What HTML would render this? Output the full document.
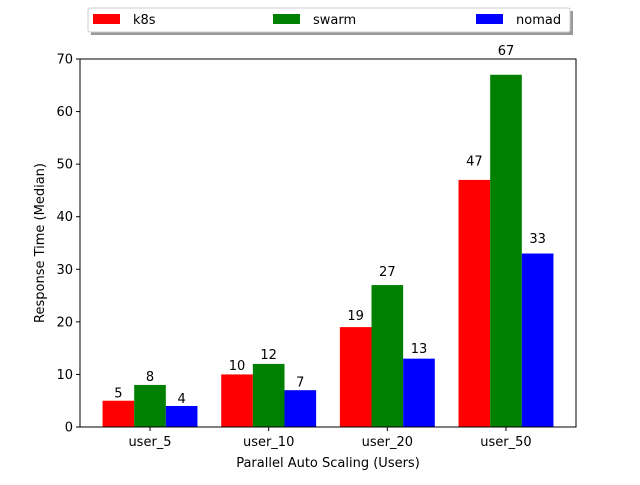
<!DOCTYPE html>
<html><head><meta charset="utf-8"><style>
body{margin:0;background:#fff;}
svg{font-family:"DejaVu Sans","Liberation Sans",sans-serif;}
</style></head><body>
<svg id="chart" width="640" height="480" viewBox="0 0 640 480" xmlns="http://www.w3.org/2000/svg">
<rect width="640" height="480" fill="#fff"/>
<g id="bars"></g>
<g id="labels"></g>
<rect x="80" y="59" width="496" height="368" fill="none" stroke="#000" stroke-width="1"/>
<g id="yticks"></g>
<g id="xticks"></g>
<text x="328" y="467" font-size="13" text-anchor="middle">Parallel Auto Scaling (Users)</text>
<text x="44" y="243" font-size="13" text-anchor="middle" transform="rotate(-90 44 243)">Response Time (Median)</text>
<g>
<rect x="91" y="11" width="482" height="24" fill="#555" opacity="0.6"/>
<rect x="88" y="8" width="482" height="24" fill="#fff" stroke="#ccc" rx="2"/>
<g id="legend-items"></g>
</g>
</svg>
<script>
const categories=["user_5","user_10","user_20","user_50"];
const seriesNames=["k8s","swarm","nomad"];
const colors=["#ff0000","#008000","#0000ff"];
const k8s=[5,10,19,47];
const swarm=[8,12,27,67];
const nomad=[4,7,13,33];
const yTicks=[0,10,20,30,40,50,60,70];
const series=[k8s,swarm,nomad];
const NS="http://www.w3.org/2000/svg";
const x0=80,x1=576,y0=427,y1=59;
const xmin=-0.59,xmax=3.59,ymin=0,ymax=70;
const xs=v=>x0+(v-xmin)/(xmax-xmin)*(x1-x0);
const ys=v=>y0-(v-ymin)/(ymax-ymin)*(y0-y1);
const bw=0.8/3;
function mk(t,a,p){const e=document.createElementNS(NS,t);for(const k in a)e.setAttribute(k,a[k]);p.appendChild(e);return e;}
const gb=document.getElementById('bars'),gl=document.getElementById('labels');
series.forEach((s,si)=>{s.forEach((v,ci)=>{
 const c=ci-0.4+si*bw;
 const r=mk('rect',{x:xs(c),y:ys(v),width:xs(c+bw)-xs(c),height:ys(0)-ys(v),fill:colors[si]},gb);
 
 
 const t=mk('text',{x:xs(c+bw/2),y:ys(v*1.05)-2,'font-size':13,'text-anchor':'middle'},gl);
 t.textContent=v;
 
 
});});
const gy=document.getElementById('yticks');
yTicks.forEach(v=>{
 mk('line',{x1:x0-4,x2:x0,y1:ys(v),y2:ys(v),stroke:'#000'},gy);
 const t=mk('text',{x:x0-7,y:ys(v)+4.5,'font-size':13,'text-anchor':'end'},gy);
 t.textContent=v;
 
 
});
const gx=document.getElementById('xticks');
categories.forEach((c,i)=>{
 mk('line',{x1:xs(i),x2:xs(i),y1:y0,y2:y0+4,stroke:'#000'},gx);
 const t=mk('text',{x:xs(i),y:y0+19,'font-size':13,'text-anchor':'middle'},gx);
 t.textContent=c;
 
 
});
const lg=document.getElementById('legend-items');
const lx=[93,273,476];
seriesNames.forEach((n,i)=>{
 mk('rect',{x:lx[i],y:14,width:27,height:10,fill:colors[i]},lg);
 const t=mk('text',{x:lx[i]+40,y:24,'font-size':13},lg);
 t.textContent=n;
 
 
});
</script>
</body></html>
